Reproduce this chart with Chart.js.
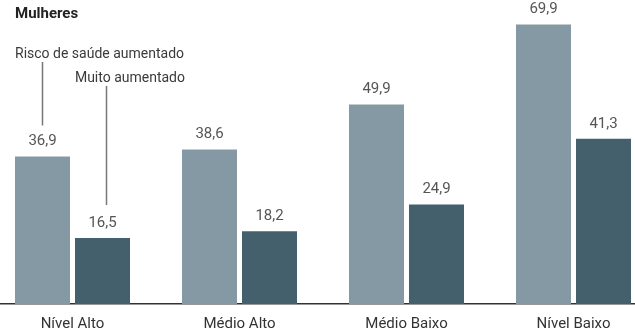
<!DOCTYPE html>
<html lang="pt">
<head>
<meta charset="utf-8">
<script src="https://cdn.jsdelivr.net/npm/chart.js@4/dist/chart.umd.min.js"></script>
<style>
  body { margin: 0; width: 635px; height: 334px; overflow: hidden; background: #fff; position: relative; font-family: Roboto, sans-serif; }
  #wrap { position: absolute; left: -11px; top: 0; width: 668px; height: 334px; }
  .title { position: absolute; left: 15px; top: 4px; font: bold 15px Roboto, sans-serif; color: #222; }
  .note { position: absolute; font: 14px Roboto, sans-serif; color: #3a3a3a; white-space: nowrap; }
  #note-1 { left: 15px; top: 45px; }
  #note-2 { right: 450px; top: 69px; }
</style>
</head>
<body>
<div id="wrap"><canvas id="chart" width="668" height="334"></canvas></div>
<div class="title">Mulheres</div>
<div class="note" id="note-1">Risco de saúde aumentado</div>
<div class="note" id="note-2">Muito aumentado</div>
<script>
// ── data ──
const categories = ["Nível Alto", "Médio Alto", "Médio Baixo", "Nível Baixo"];
const riscoAumentado = [36.9, 38.6, 49.9, 69.9];
const muitoAumentado = [16.5, 18.2, 24.9, 41.3];

const LIGHT = "#8599a4";
const DARK  = "#45606d";

const fmt = v => v.toFixed(1).replace(".", ",");

// value above every bar
const valueLabels = {
    id: "valueLabels",
    afterDatasetsDraw(chart) {
        const ctx = chart.ctx;
        ctx.save();
        ctx.font = "15px Roboto, sans-serif";
        ctx.fillStyle = "#555";
        ctx.textAlign = "center";
        ctx.textBaseline = "middle";
        chart.data.datasets.forEach((ds, i) => {
            chart.getDatasetMeta(i).data.forEach((bar, j) => {
                ctx.fillText(fmt(ds.data[j]), bar.x, bar.y - 15);
            });
        });
        ctx.restore();
    }
};

// leader lines from the notes down to the first pair of bars
const noteLines = {
    id: "noteLines",
    afterDatasetsDraw(chart) {
        const ctx = chart.ctx;
        const b1 = chart.getDatasetMeta(0).data[0];
        const b2 = chart.getDatasetMeta(1).data[0];
        ctx.save();
        ctx.strokeStyle = "#777";
        ctx.lineWidth = 1.5;
        ctx.beginPath();
        ctx.moveTo(b1.x, 62);
        ctx.lineTo(b1.x, b1.y - 31);
        ctx.moveTo(b2.x + 4, 86);
        ctx.lineTo(b2.x + 4, b2.y - 33);
        ctx.stroke();
        ctx.restore();
    }
};

new Chart(document.getElementById("chart"), {
    type: "bar",
    data: {
        labels: categories,
        datasets: [
            { label: "Risco de saúde aumentado", data: riscoAumentado, backgroundColor: LIGHT },
            { label: "Muito aumentado", data: muitoAumentado, backgroundColor: DARK }
        ]
    },
    options: {
        responsive: false,
        animation: false,
        devicePixelRatio: 1,
        categoryPercentage: 0.7186,
        barPercentage: 0.9167,
        layout: { padding: 0 },
        plugins: { legend: { display: false }, tooltip: { enabled: false } },
        scales: {
            x: {
                grid: { display: false, drawTicks: false },
                border: { display: true, color: "#333", width: 1.5 },
                ticks: { color: "#333", font: { family: "Roboto", size: 15 }, padding: 11 },
                afterFit(scale) { scale.height = 30; }
            },
            y: {
                display: false,
                min: 0,
                max: 76
            }
        }
    },
    plugins: [valueLabels, noteLines]
});
</script>
</body>
</html>
